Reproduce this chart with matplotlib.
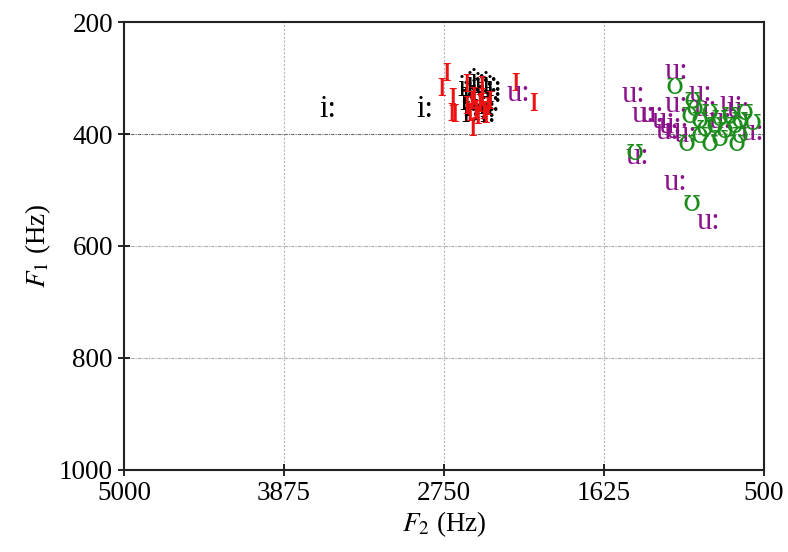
import matplotlib
matplotlib.use("Agg")
import matplotlib.pyplot as plt

plt.rcParams['font.family'] = ['Liberation Serif', 'DejaVu Serif']
plt.rcParams['mathtext.fontset'] = 'stix'

# formant measurements (Hz) per vowel
ii_f2 = [3566, 2884, 2595, 2567, 2539, 2511, 2483, 2455, 2427, 2398, 2413,
         2441, 2497, 2553, 2581, 2525, 2469, 2441, 2567, 2511, 2455, 2398]
ii_f1 = [357, 357, 318, 330, 311, 325, 314, 321, 311, 330, 346,
         357, 361, 354, 343, 339, 336, 366, 366, 307, 350, 318]

ih_f2 = [2731, 2766, 2244, 2122, 2546, 2687, 2694, 2673, 2588, 2483,
         2588, 2553, 2525, 2497, 2469, 2441, 2427, 2567, 2511, 2455, 2539, 2483]
ih_f1 = [289, 315, 307, 342, 387, 333, 360, 362, 309, 312,
         348, 339, 354, 345, 357, 350, 339, 361, 366, 364, 332, 334]

uu_f2 = [1114, 1421, 950, 727, 1114, 1350, 1281, 1210, 1161, 1112,
         1393, 1126, 894, 2230, 584, 683, 809, 915, 1180, 1050]
uu_f1 = [289, 330, 327, 345, 348, 366, 366, 375, 384, 393,
         441, 486, 557, 327, 398, 357, 375, 354, 395, 400]

uh_f2 = [1126, 999, 577, 1042, 880, 690, 1407, 1006, 1020, 950, 880, 809,
         739, 669, 915, 845, 774, 985, 634, 704, 950, 809, 669]
uh_f1 = [315, 339, 379, 416, 416, 416, 432, 523, 366, 375, 361, 371,
         366, 375, 389, 384, 393, 354, 361, 384, 402, 407, 402]

serif = ['Liberation Serif', 'DejaVu Serif']
# label, F2, F1, colour, font size, family
vowels = [
    ('i:', ii_f2, ii_f1, 'black', 22, serif),
    ('\u026a', ih_f2, ih_f1, '#ee1111', 27, serif),
    ('u:', uu_f2, uu_f1, '#8b128b', 22, serif),
    ('\u028a', uh_f2, uh_f1, '#1a8c1a', 21, ['DejaVu Serif']),
]

x_ticks = [5000, 3875, 2750, 1625, 500]
y_ticks = [200, 400, 600, 800, 1000]

fig = plt.figure(figsize=(7.88, 5.52), dpi=100)
ax = fig.add_axes([0.1574, 0.1486, 0.8121, 0.8115])

for label, f2, f1, col, fs, fam in vowels:
    for x, y in zip(f2, f1):
        ax.text(x, y, label, color=col, fontsize=fs, family=fam,
                ha='center', va='center')

ax.set_xlim(5000, 500)
ax.set_ylim(1000, 200)
ax.set_xticks(x_ticks)
ax.set_yticks(y_ticks)
ax.tick_params(labelsize=19.5, direction='inout', length=9, width=1.2)

# dotted reference lines at the inner ticks
for x in x_ticks[1:-1]:
    ax.axvline(x, color='#b5b5b5', lw=0.8, ls=(0, (2, 1.5)), zorder=0)
for y in y_ticks[1:-1]:
    c = '#666666' if y == 400 else '#aaaaaa'
    ax.axhline(y, color=c, lw=0.8, ls=(0, (3, 1, 1, 1)), zorder=0)

for s in ax.spines.values():
    s.set_linewidth(1.5)
    s.set_color('#222222')

ax.set_xlabel(r'$F_2$ (Hz)', fontsize=19.5, labelpad=2)
ax.set_ylabel(r'$F_1$ (Hz)', fontsize=19.5, labelpad=4)

fig.savefig('out.png', dpi=100)
